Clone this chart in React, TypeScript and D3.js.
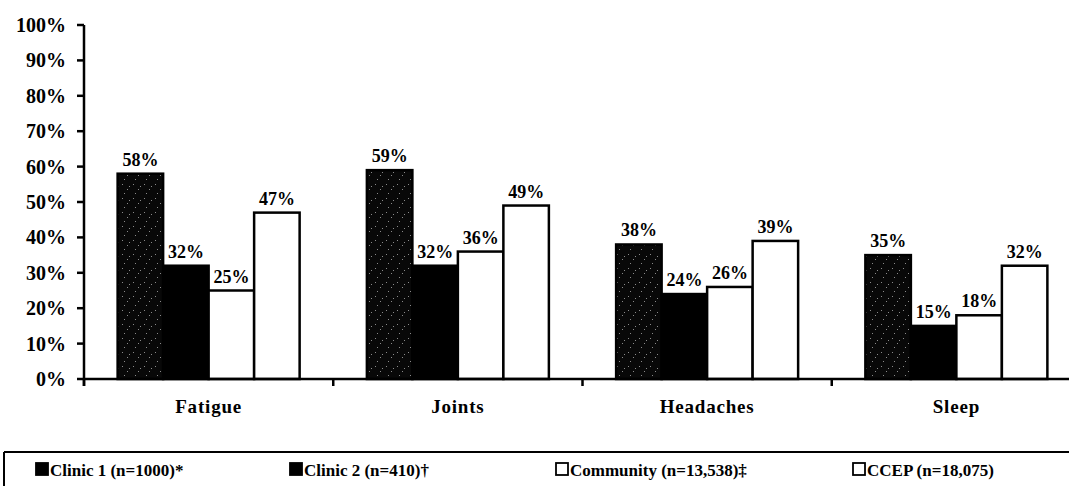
import React from "react";
import * as d3 from "d3";

// Symptom categories and the four cohorts compared
const categories = ["Fatigue", "Joints", "Headaches", "Sleep"];
const seriesNames = [
  "Clinic 1 (n=1000)*",
  "Clinic 2 (n=410)†",
  "Community (n=13,538)‡",
  "CCEP (n=18,075)",
];

// Share of each cohort reporting the symptom (fraction), one array per cohort
const clinic1 = [0.58, 0.59, 0.38, 0.35];
const clinic2 = [0.32, 0.32, 0.24, 0.15];
const community = [0.25, 0.36, 0.26, 0.18];
const ccep = [0.47, 0.49, 0.39, 0.32];
const seriesValues = [clinic1, clinic2, community, ccep];

const yTicks = [0, 0.1, 0.2, 0.3, 0.4, 0.5, 0.6, 0.7, 0.8, 0.9, 1.0];

const W = 1069;
const H = 486;
const FONT = "'Liberation Serif', 'Times New Roman', serif";

const plot = { left: 84, top: 25, bottom: 379, right: 1081 };
const groupWidth = 182;
const legendX = [35, 289, 555, 852];
const legendTop = 452;

const fills = ["url(#speckle)", "#000", "#fff", "#fff"];
const legendFills = ["#000", "#000", "#fff", "#fff"];

export default function App() {
  const x = d3
    .scaleBand<string>()
    .domain(categories)
    .range([plot.left, plot.right])
    .padding(0);
  const inner = d3
    .scaleBand<number>()
    .domain(d3.range(seriesNames.length))
    .range([0, groupWidth])
    .padding(0);
  const y = d3.scaleLinear().domain([0, 1]).range([plot.bottom, plot.top]);
  const groupOffset = (x.bandwidth() - groupWidth) / 2;
  const pct = d3.format(".0%");

  // sparse light specks on the dark Clinic 1 bars
  const speckDots: [number, number][] = [
    [1, 2], [6, 7], [3, 11], [8, 4],
  ];

  return (
    <svg
      width={W}
      height={H}
      style={{ position: "absolute", left: 0, top: 0, background: "#fff" }}
      fontFamily={FONT}
      fontWeight="bold"
    >
      <defs>
        <pattern id="speckle" width={11} height={14} patternUnits="userSpaceOnUse">
          <rect width={11} height={14} fill="#080808" />
          {speckDots.map(([dx, dy], i) => (
            <rect key={i} x={dx} y={dy} width={1} height={1} fill="#8a8a8a" />
          ))}
        </pattern>
      </defs>

      {/* bars */}
      {categories.map((cat, ci) =>
        seriesValues.map((vals, si) => {
          const bx = (x(cat) ?? 0) + groupOffset + (inner(si) ?? 0);
          const by = y(vals[ci]);
          return (
            <rect
              key={`${cat}-${si}`}
              x={bx}
              y={by}
              width={inner.bandwidth()}
              height={y(0) - by}
              fill={fills[si]}
              stroke="#000"
              strokeWidth={2.5}
            />
          );
        })
      )}

      {/* value labels */}
      {categories.map((cat, ci) =>
        seriesValues.map((vals, si) => {
          const cx =
            (x(cat) ?? 0) + groupOffset + (inner(si) ?? 0) + inner.bandwidth() / 2;
          return (
            <text
              key={`lbl-${cat}-${si}`}
              x={cx}
              y={y(vals[ci]) - 8}
              textAnchor="middle"
              fontSize={18}
              fill="#000"
            >
              {pct(vals[ci])}
            </text>
          );
        })
      )}

      {/* y axis */}
      <line
        x1={plot.left}
        x2={plot.left}
        y1={y(1)}
        y2={y(0) + 7}
        stroke="#000"
        strokeWidth={2.5}
      />
      {yTicks.map((t) => (
        <g key={t}>
          <line
            x1={plot.left - 7}
            x2={plot.left}
            y1={y(t)}
            y2={y(t)}
            stroke="#000"
            strokeWidth={2.5}
          />
          <text
            x={plot.left - 18}
            y={y(t)}
            dy="0.35em"
            textAnchor="end"
            fontSize={20}
            fill="#000"
          >
            {pct(t)}
          </text>
        </g>
      ))}

      {/* x axis */}
      <line
        x1={plot.left}
        x2={plot.right}
        y1={y(0)}
        y2={y(0)}
        stroke="#000"
        strokeWidth={2.5}
      />
      {categories.map((cat) => (
        <line
          key={`tick-${cat}`}
          x1={x(cat) ?? 0}
          x2={x(cat) ?? 0}
          y1={y(0)}
          y2={y(0) + 7}
          stroke="#000"
          strokeWidth={2.5}
        />
      ))}
      {categories.map((cat) => (
        <text
          key={`cat-${cat}`}
          x={(x(cat) ?? 0) + x.bandwidth() / 2}
          y={413}
          textAnchor="middle"
          fontSize={19}
          letterSpacing={0.8}
          fill="#000"
        >
          {cat}
        </text>
      ))}

      {/* legend */}
      <line x1={4} x2={W} y1={legendTop} y2={legendTop} stroke="#000" strokeWidth={2} />
      <line x1={4} x2={4} y1={legendTop} y2={H} stroke="#000" strokeWidth={2} />
      {seriesNames.map((name, i) => (
        <g key={name} transform={`translate(${legendX[i]},0)`}>
          <rect
            x={1}
            y={463}
            width={12}
            height={12}
            fill={legendFills[i]}
            stroke="#000"
            strokeWidth={1.8}
          />
          <text x={15} y={476} fontSize={17} fill="#000">
            {name}
          </text>
        </g>
      ))}
    </svg>
  );
}
